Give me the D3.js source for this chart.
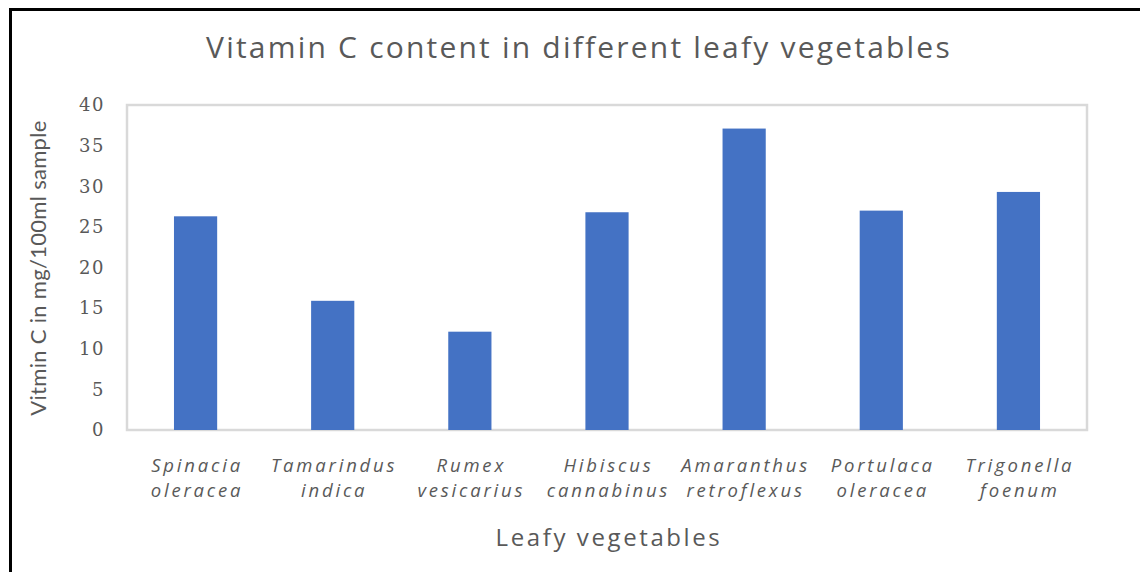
<!DOCTYPE html>
<html>
<head>
  <meta charset="utf-8" />
  <title>Vitamin C content</title>
  <script src="https://d3js.org/d3.v7.min.js"></script>
  <style>
    body { margin: 0; background: #fff; }
    .ytick text { fill: #595959; font-family: "DejaVu Serif", serif; font-size: 18px; letter-spacing: 1.5px; }
    .xlab { fill: #595959; font-family: "Open Sans", sans-serif; font-style: italic; font-size: 18.5px; letter-spacing: 2.8px; }
  </style>
</head>
<body>
  <div id="chart"></div>
  <script>
    // data
    var vegLine1 = ["Spinacia", "Tamarindus", "Rumex", "Hibiscus", "Amaranthus", "Portulaca", "Trigonella"];
    var vegLine2 = ["oleracea", "indica", "vesicarius", "cannabinus", "retroflexus", "oleracea", "foenum"];
    var vitC = [26.3, 15.9, 12.1, 26.8, 37.1, 27.0, 29.3];
    var yTicks = [0, 5, 10, 15, 20, 25, 30, 35, 40];

    var W = 1140, H = 572;
    var plot = { left: 127, right: 1087, top: 105, bottom: 430 };

    var svg = d3.select("#chart").append("svg")
      .attr("width", W)
      .attr("height", H);

    svg.append("rect").attr("width", W).attr("height", H).attr("fill", "#fff");

    // outer frame (only top and left edges are visible)
    svg.append("path")
      .attr("d", "M10.5," + H + "V9.5H" + W)
      .attr("fill", "none")
      .attr("stroke", "#000")
      .attr("stroke-width", 3);

    var x = d3.scaleBand()
      .domain(d3.range(vitC.length))
      .range([plot.left, plot.right])
      .paddingInner(0.685)
      .paddingOuter(0.3425);

    var y = d3.scaleLinear()
      .domain([0, 40])
      .range([plot.bottom, plot.top]);

    // plot area box
    svg.append("rect")
      .attr("x", plot.left)
      .attr("y", plot.top)
      .attr("width", plot.right - plot.left)
      .attr("height", plot.bottom - plot.top)
      .attr("fill", "none")
      .attr("stroke", "#d9d9d9")
      .attr("stroke-width", 2.5);

    svg.selectAll(".bar")
      .data(vitC)
      .enter()
      .append("rect")
      .attr("class", "bar")
      .attr("x", function (d, i) { return x(i); })
      .attr("y", function (d) { return y(d); })
      .attr("width", x.bandwidth())
      .attr("height", function (d) { return y(0) - y(d); })
      .attr("fill", "#4472c4");

    // y axis labels, no line or ticks
    var yaxis = d3.axisLeft(y).tickValues(yTicks).tickSize(0).tickPadding(0);
    var yg = svg.append("g")
      .attr("class", "ytick")
      .attr("transform", "translate(105,0)")
      .call(yaxis);
    yg.select(".domain").remove();

    // two-line category labels
    var xl = svg.selectAll(".xlab")
      .data(vegLine1)
      .enter()
      .append("text")
      .attr("class", "xlab")
      .attr("text-anchor", "middle");
    xl.append("tspan")
      .attr("x", function (d, i) { return x(i) + x.bandwidth() / 2 + 1.5; })
      .attr("y", 472)
      .text(function (d) { return d; });
    xl.append("tspan")
      .attr("x", function (d, i) { return x(i) + x.bandwidth() / 2 + 1.5; })
      .attr("y", 497)
      .text(function (d, i) { return vegLine2[i]; });

    // titles
    svg.append("text")
      .attr("x", 579)
      .attr("y", 58)
      .attr("text-anchor", "middle")
      .attr("fill", "#595959")
      .style("font-family", "'Open Sans', sans-serif")
      .style("font-size", "30px")
      .style("letter-spacing", "2.2px")
      .text("Vitamin C content in different leafy vegetables");

    svg.append("text")
      .attr("x", 609)
      .attr("y", 546)
      .attr("text-anchor", "middle")
      .attr("fill", "#595959")
      .style("font-family", "'Open Sans', sans-serif")
      .style("font-size", "24px")
      .style("letter-spacing", "2.6px")
      .text("Leafy vegetables");

    svg.append("text")
      .attr("transform", "translate(46,268) rotate(-90)")
      .attr("text-anchor", "middle")
      .attr("fill", "#595959")
      .style("font-family", "Lato, sans-serif")
      .style("font-size", "22px")
      .style("letter-spacing", "0.3px")
      .text("Vitmin C in mg/100ml sample");
  </script>
</body>
</html>
